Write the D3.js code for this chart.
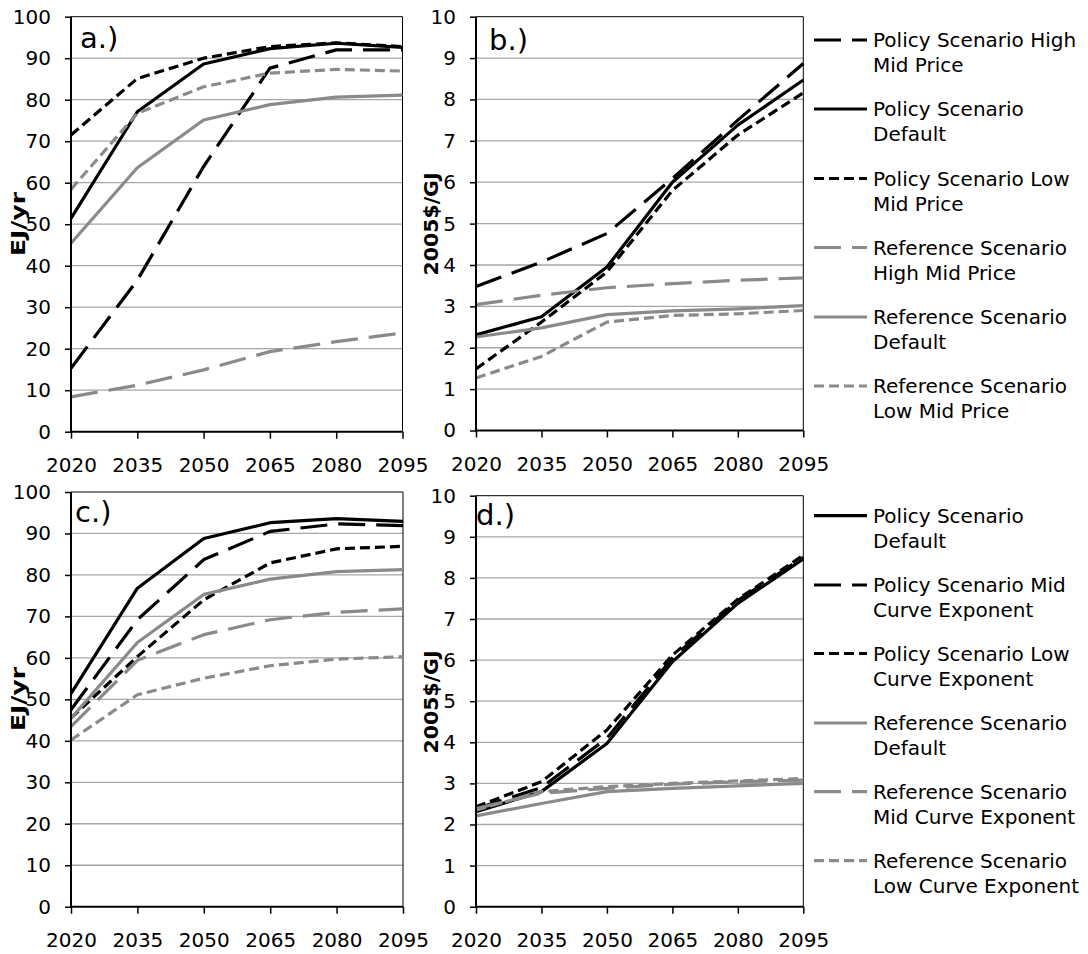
<!DOCTYPE html>
<html lang="en">
<head>
  <meta charset="UTF-8">
  <title>Scenario panels</title>
  <style>
    body {
      margin: 0;
      padding: 0;
      background-color: #ffffff;
      font-family: "DejaVu Sans", Verdana, sans-serif;
    }
  </style>
  <script src="https://d3js.org/d3.v7.min.js"></script>
</head>
<body>
  <div id="chart"></div>

  <script>
    // Shared x categories and y tick labels
    const years = [2020, 2035, 2050, 2065, 2080, 2095];
    const energyTicks = [0, 10, 20, 30, 40, 50, 60, 70, 80, 90, 100];
    const priceTicks = [0, 1, 2, 3, 4, 5, 6, 7, 8, 9, 10];

    // a.) EJ/yr, mid price sensitivity
    const aPolicyHighMid = [15.3, 36.5, 63.9, 87.6, 92.0, 92.0];
    const aPolicyDefault = [51.4, 77.1, 88.6, 92.3, 93.6, 92.6];
    const aPolicyLowMid = [71.5, 85.1, 90.0, 92.8, 93.7, 92.8];
    const aRefHighMid = [8.4, 11.2, 14.9, 19.3, 21.7, 23.8];
    const aRefDefault = [45.4, 63.6, 75.1, 78.8, 80.6, 81.1];
    const aRefLowMid = [58.4, 76.7, 83.1, 86.4, 87.3, 86.9];

    // b.) 2005$/GJ, mid price sensitivity
    const bPolicyHighMid = [3.48, 4.07, 4.76, 6.09, 7.50, 8.87];
    const bPolicyDefault = [2.31, 2.75, 3.95, 6.00, 7.38, 8.47];
    const bPolicyLowMid = [1.49, 2.62, 3.83, 5.80, 7.14, 8.16];
    const bRefHighMid = [3.04, 3.27, 3.45, 3.55, 3.63, 3.69];
    const bRefDefault = [2.26, 2.48, 2.80, 2.89, 2.94, 3.02];
    const bRefLowMid = [1.27, 1.79, 2.62, 2.78, 2.82, 2.90];

    // c.) EJ/yr, curve exponent sensitivity
    const cPolicyDefault = [51.4, 76.8, 88.8, 92.6, 93.6, 92.9];
    const cPolicyMidExp = [47.5, 69.2, 83.7, 90.5, 92.3, 91.9];
    const cPolicyLowExp = [45.5, 60.3, 74.0, 82.9, 86.3, 86.9];
    const cRefDefault = [45.4, 63.7, 75.3, 79.0, 80.8, 81.3];
    const cRefMidExp = [43.4, 59.4, 65.6, 69.2, 71.0, 71.8];
    const cRefLowExp = [40.2, 51.1, 55.1, 58.1, 59.7, 60.3];

    // d.) 2005$/GJ, curve exponent sensitivity
    const dPolicyDefault = [2.31, 2.80, 3.97, 5.96, 7.38, 8.46];
    const dPolicyMidExp = [2.38, 2.90, 4.10, 6.05, 7.45, 8.50];
    const dPolicyLowExp = [2.43, 3.04, 4.30, 6.12, 7.48, 8.55];
    const dRefDefault = [2.21, 2.51, 2.80, 2.88, 2.94, 3.00];
    const dRefMidExp = [2.39, 2.76, 2.88, 2.98, 3.04, 3.08];
    const dRefLowExp = [2.35, 2.80, 2.92, 3.00, 3.06, 3.12];

    // line styles
    const BLACK = "#000000";
    const GREY = "#8a8a8a";
    const LONG_DASH = "27,11";
    const SHORT_DASH = "10,5";
    const FONT = "'DejaVu Sans', Verdana, sans-serif";
    const styles = {
      blackSolid: { color: BLACK, dash: null },
      blackLong: { color: BLACK, dash: LONG_DASH },
      blackShort: { color: BLACK, dash: SHORT_DASH },
      greySolid: { color: GREY, dash: null },
      greyLong: { color: GREY, dash: LONG_DASH },
      greyShort: { color: GREY, dash: SHORT_DASH }
    };

    const panels = [
      {
        id: "a", label: "a.)", labelPos: [80, 48], title: "EJ/yr", titlePos: [25, 224], titleLen: 64,
        left: 71, right: 402.5, top: 16.7, bottom: 431.7, yMax: 100, ticks: energyTicks,
        series: [
          { values: aPolicyHighMid, style: "blackLong" },
          { values: aPolicyDefault, style: "blackSolid" },
          { values: aPolicyLowMid, style: "blackShort" },
          { values: aRefHighMid, style: "greyLong" },
          { values: aRefDefault, style: "greySolid" },
          { values: aRefLowMid, style: "greyShort" }
        ]
      },
      {
        id: "b", label: "b.)", labelPos: [489, 50], title: "2005$/GJ", titlePos: [438, 224], titleLen: 103,
        left: 476, right: 803.3, top: 16.7, bottom: 430.5, yMax: 10, ticks: priceTicks,
        series: [
          { values: bPolicyHighMid, style: "blackLong", name: ["Policy Scenario High", "Mid Price"] },
          { values: bPolicyDefault, style: "blackSolid", name: ["Policy Scenario", "Default"] },
          { values: bPolicyLowMid, style: "blackShort", name: ["Policy Scenario Low", "Mid Price"] },
          { values: bRefHighMid, style: "greyLong", name: ["Reference Scenario", "High Mid Price"] },
          { values: bRefDefault, style: "greySolid", name: ["Reference Scenario", "Default"] },
          { values: bRefLowMid, style: "greyShort", name: ["Reference Scenario", "Low Mid Price"] }
        ],
        legendY: [40, 109, 178.5, 247.5, 317, 386]
      },
      {
        id: "c", label: "c.)", labelPos: [75, 522], title: "EJ/yr", titlePos: [25, 699], titleLen: 64,
        left: 71, right: 403, top: 492, bottom: 906.7, yMax: 100, ticks: energyTicks,
        series: [
          { values: cPolicyDefault, style: "blackSolid" },
          { values: cPolicyMidExp, style: "blackLong" },
          { values: cPolicyLowExp, style: "blackShort" },
          { values: cRefDefault, style: "greySolid" },
          { values: cRefMidExp, style: "greyLong" },
          { values: cRefLowExp, style: "greyShort" }
        ]
      },
      {
        id: "d", label: "d.)", labelPos: [476, 525], title: "2005$/GJ", titlePos: [438, 702], titleLen: 103,
        left: 476, right: 803.3, top: 495.7, bottom: 906.7, yMax: 10, ticks: priceTicks,
        series: [
          { values: dPolicyDefault, style: "blackSolid", name: ["Policy Scenario", "Default"] },
          { values: dPolicyMidExp, style: "blackLong", name: ["Policy Scenario Mid", "Curve Exponent"] },
          { values: dPolicyLowExp, style: "blackShort", name: ["Policy Scenario Low", "Curve Exponent"] },
          { values: dRefDefault, style: "greySolid", name: ["Reference Scenario", "Default"] },
          { values: dRefMidExp, style: "greyLong", name: ["Reference Scenario", "Mid Curve Exponent"] },
          { values: dRefLowExp, style: "greyShort", name: ["Reference Scenario", "Low Curve Exponent"] }
        ],
        legendY: [515.7, 585, 653.5, 723, 791.7, 860.7]
      }
    ];

    const width = 1088;
    const height = 954;

    const svg = d3.select("#chart")
      .append("svg")
      .attr("width", width)
      .attr("height", height)
      .style("font-family", FONT);

    function drawPanel(p) {
      const g = svg.append("g").attr("class", "panel-" + p.id);

      const x = d3.scalePoint().domain(years).range([p.left, p.right]);
      const y = d3.scaleLinear().domain([0, p.yMax]).range([p.bottom, p.top]);

      // horizontal gridlines
      g.selectAll(".grid")
        .data(p.ticks.filter(t => t > 0 && t < p.yMax))
        .enter()
        .append("line")
        .attr("class", "grid")
        .attr("x1", p.left)
        .attr("x2", p.right)
        .attr("y1", d => y(d))
        .attr("y2", d => y(d))
        .attr("stroke", "#a6a6a6")
        .attr("stroke-width", 1.3);

      // thin top and right border of plot area
      g.append("path")
        .attr("d", `M${p.left},${y(p.yMax)}H${p.right}V${p.bottom}`)
        .attr("fill", "none")
        .attr("stroke", "#000")
        .attr("stroke-width", 1);

      // series
      const line = d3.line()
        .x((d, i) => x(years[i]))
        .y(d => y(d));

      p.series.forEach(s => {
        const st = styles[s.style];
        g.append("path")
          .datum(s.values)
          .attr("fill", "none")
          .attr("stroke", st.color)
          .attr("stroke-width", 3.2)
          .attr("stroke-linejoin", "round")
          .attr("stroke-dasharray", st.dash)
          .attr("d", line);
      });

      // axes
      const yAxis = g.append("g")
        .attr("transform", `translate(${p.left},0)`)
        .call(d3.axisLeft(y).tickValues(p.ticks).tickSize(6).tickSizeOuter(0).tickPadding(14));
      const xAxis = g.append("g")
        .attr("transform", `translate(0,${p.bottom})`)
        .call(d3.axisBottom(x).tickSize(7).tickSizeOuter(0).tickPadding(19));

      [yAxis, xAxis].forEach(ax => {
        ax.attr("font-family", null).attr("font-size", null);
        ax.select(".domain").attr("stroke", "#000").attr("stroke-width", 2);
        ax.selectAll(".tick line").attr("stroke", "#000").attr("stroke-width", 1.5);
        ax.selectAll(".tick text")
          .style("font-family", FONT)
          .style("font-size", "20px")
          .attr("fill", "#000");
      });
      // extend axis lines slightly so the corner is closed
      yAxis.select(".domain").attr("d", `M0,${p.bottom + 1}V${p.top}`);
      xAxis.select(".domain").attr("d", `M${p.left - 1},0H${p.right}`);

      // panel letter
      g.append("text")
        .attr("x", p.labelPos[0])
        .attr("y", p.labelPos[1])
        .style("font-size", "29px")
        .text(p.label);

      // y-axis title
      g.append("text")
        .attr("transform", `translate(${p.titlePos[0]},${p.titlePos[1]}) rotate(-90)`)
        .attr("text-anchor", "middle")
        .attr("textLength", p.titleLen)
        .attr("lengthAdjust", "spacingAndGlyphs")
        .style("font-size", "20px")
        .style("font-weight", "bold")
        .text(p.title);

      // legend
      if (p.legendY) {
        const legend = g.selectAll(".legend")
          .data(p.series)
          .enter()
          .append("g")
          .attr("class", "legend")
          .attr("transform", (d, i) => `translate(0,${p.legendY[i]})`);

        legend.append("line")
          .attr("x1", 814)
          .attr("x2", 867)
          .attr("y1", 0)
          .attr("y2", 0)
          .attr("stroke", d => styles[d.style].color)
          .attr("stroke-width", 3.2)
          .attr("stroke-dasharray", d => styles[d.style].dash);

        legend.append("text")
          .attr("x", 873)
          .attr("y", 0)
          .style("font-size", "20px")
          .selectAll("tspan")
          .data(d => d.name)
          .enter()
          .append("tspan")
          .attr("x", 873)
          .attr("y", (d, i) => i * 25)
          .attr("dy", "0.36em")
          .text(d => d);
      }
    }

    panels.forEach(drawPanel);
  </script>
</body>
</html>
